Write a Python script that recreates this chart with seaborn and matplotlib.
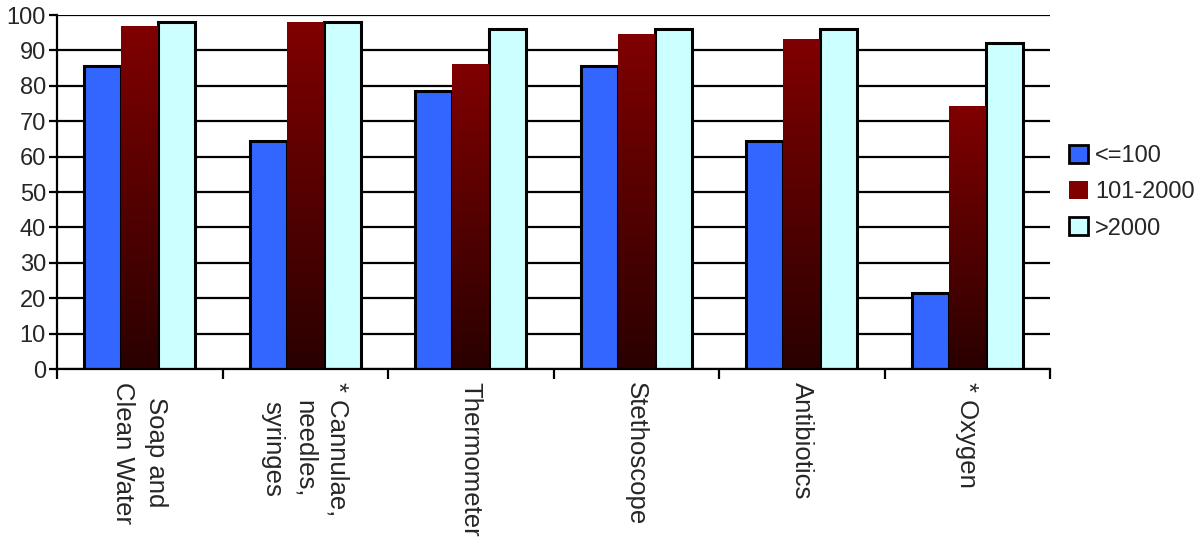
import numpy as np
import pandas as pd
import seaborn as sns
import matplotlib.pyplot as plt
from matplotlib.colors import LinearSegmentedColormap
from matplotlib.patches import Patch

# data
categories = ['Soap and\nClean Water', '* Cannulae,\nneedles,\nsyringes', 'Thermometer',
              'Stethoscope', 'Antibiotics', '* Oxygen']
groups = ['<=100', '101-2000', '>2000']
small = [85.7, 64.3, 78.6, 85.7, 64.3, 21.4]
medium = [96.6, 98.0, 86.0, 94.6, 93.0, 74.0]
large = [98.0, 98.0, 96.0, 96.0, 96.0, 92.0]

colors = ['#3366ff', '#800000', '#ccffff']

df = pd.DataFrame({
    'cat': categories * 3,
    'group': [groups[0]] * 6 + [groups[1]] * 6 + [groups[2]] * 6,
    'value': small + medium + large,
})

sns.set_style('white')
plt.rcParams['font.family'] = ['Liberation Sans', 'DejaVu Sans']

fig = plt.figure(figsize=(12, 5.46), dpi=100)
ax = fig.add_axes([0.0475, 0.324, 0.8275, 0.6485])

sns.barplot(data=df, x='cat', y='value', hue='group', hue_order=groups,
            palette=colors, width=0.67, gap=0, saturation=1, ax=ax,
            edgecolor='black', linewidth=2.2, legend=False)

# red bars get a vertical dark gradient and no outline
grad = LinearSegmentedColormap.from_list('redgrad', ['#2a0000', '#800000'])
for patch in ax.containers[1]:
    patch.set_facecolor('none')
    patch.set_edgecolor('none')
    x0, y0 = patch.get_x(), patch.get_y()
    w, h = patch.get_width(), patch.get_height()
    ax.imshow(np.linspace(0, 1, 256).reshape(-1, 1), cmap=grad, origin='lower',
              extent=[x0, x0 + w, y0, y0 + h], aspect='auto', zorder=2)

ax.set_xlim(-0.5, 5.5)
ax.set_ylim(0, 100)
ax.set_yticks(range(0, 101, 10))
ax.set_aspect('auto')
ax.yaxis.grid(True, color='black', linewidth=1.6)
ax.set_axisbelow(True)
ax.set_xlabel('')
ax.set_ylabel('')

for s in ['top', 'right']:
    ax.spines[s].set_visible(False)
for s in ['left', 'bottom']:
    ax.spines[s].set_color('black')
    ax.spines[s].set_linewidth(1.6)

ax.tick_params(axis='y', left=True, length=6, width=1.6, color='black',
               labelsize=17, pad=2)
ax.set_xticks(range(len(categories)))
ax.set_xticklabels(categories, rotation=270, fontsize=18.5, ha='center', va='top',
                   multialignment='center', linespacing=1.45)
ax.tick_params(axis='x', which='major', length=0, pad=9)
ax.set_xticks(np.arange(-0.5, 6, 1), minor=True)
ax.tick_params(axis='x', which='minor', bottom=True, length=7, width=1.6, color='black')

handles = [Patch(facecolor=colors[0], edgecolor='black', linewidth=2),
           Patch(facecolor=colors[1], edgecolor='none'),
           Patch(facecolor=colors[2], edgecolor='black', linewidth=2)]
ax.legend(handles, groups, loc='center left', bbox_to_anchor=(1.01, 0.5),
          frameon=False, fontsize=17, handlelength=0.8, handleheight=0.8,
          handletextpad=0.3, labelspacing=0.6, borderaxespad=0)

fig.savefig('out.png', dpi=100)
